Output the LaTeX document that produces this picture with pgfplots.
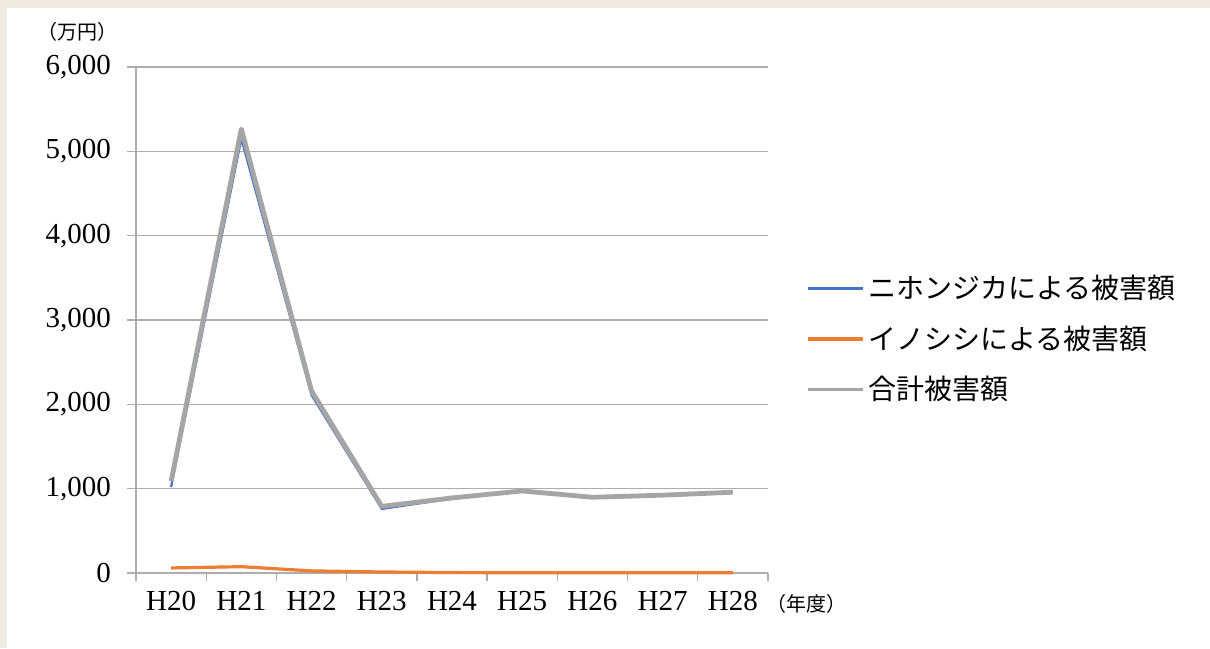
\documentclass[border=0pt]{standalone}
\usepackage{pgfplots}
\pgfplotsset{compat=1.18}
\usepackage{fontspec}
\setmainfont{Liberation Serif}
\newfontfamily\cjk{Noto Sans CJK JP}
\definecolor{sblue}{HTML}{4472C4}
\definecolor{sorange}{HTML}{ED7D31}
\definecolor{sgray}{HTML}{A5A5A5}
\definecolor{bgbeige}{HTML}{EFEBE3}
\definecolor{gridc}{HTML}{ADADAD}
\begin{document}
\begin{tikzpicture}
\fill[bgbeige] (-68pt,-37.5pt) rectangle (537pt,286.5pt);
\fill[white] (-64.5pt,-37.5pt) rectangle (537pt,282.5pt);
\begin{axis}[
  scale only axis,
  width=316pt, height=253pt,
  xmin=-0.5, xmax=8.5,
  ymin=0, ymax=6000,
  xtick={0,...,8},
  xticklabels={H20,H21,H22,H23,H24,H25,H26,H27,H28},
  minor xtick={-0.5,0.5,...,8.5},
  xtick style={draw=none},
  minor x tick style={draw=gridc, line width=0.7pt},
  minor tick length=4pt,
  ytick={0,1000,...,6000},
  major tick length=4.5pt,
  y tick style={draw=gridc, line width=0.7pt},
  tick align=outside,
  axis x line*=bottom,
  axis y line*=left,
  axis line style={draw=gridc, line width=0.7pt, -},
  ymajorgrids,
  grid style={draw=gridc, line width=0.7pt},
  /pgf/number format/assume math mode=true,
  /pgf/number format/1000 sep={,},
  scaled y ticks=false,
  tick label style={font=\fontsize{14.5}{16}\selectfont},
  yticklabel style={xshift=-4.5pt},
  xticklabel style={yshift=-1pt},
  legend style={at={(1.05,0.605)}, anchor=north west, draw=none, fill=none,
    font=\cjk\fontsize{14}{16}\selectfont, row sep=8pt,
    /tikz/every odd column/.append style={column sep=0pt},
    /tikz/every even column/.append style={column sep=0pt}},
  legend cell align=left,
  legend image code/.code={\draw[#1, line width=1.8pt] (0pt,0pt) -- (27.5pt,0pt);},
  clip=false,
]
\addplot[color=sblue, line width=1.1pt] coordinates {
(0,1020) (1,5150) (2,2110) (3,760) (4,882) (5,968) (6,892) (7,918) (8,953)};
\addlegendentry{ニホンジカによる被害額}
\addplot[color=sorange, line width=1.6pt] coordinates {
(0,60) (1,75) (2,25) (3,12) (4,5) (5,3) (6,3) (7,3) (8,3)};
\addlegendentry{イノシシによる被害額}
\addplot[color=sgray, line width=2.4pt, line join=round] coordinates {
(0,1090) (1,5265) (2,2160) (3,790) (4,890) (5,973) (6,898) (7,923) (8,958)};
\addlegendentry{合計被害額}
\end{axis}
\node[font=\cjk\fontsize{10}{11}\selectfont, anchor=center] at (-29pt,270.5pt) {（万円）};
\node[font=\cjk\fontsize{10}{11}\selectfont, anchor=center] at (335pt,-15.5pt) {（年度）};
\end{tikzpicture}
\end{document}
